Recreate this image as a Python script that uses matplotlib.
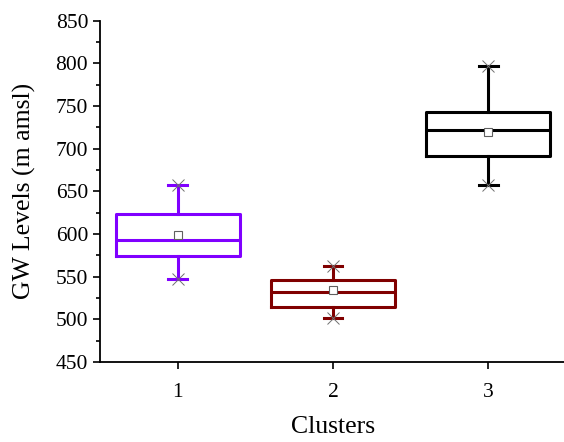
import matplotlib
matplotlib.use("Agg")
import matplotlib.pyplot as plt
from matplotlib.ticker import MultipleLocator

clusters = [1, 2, 3]
whislo = [547, 502, 657]
q1 = [574, 514, 692]
medians = [593, 532, 722]
q3 = [623, 546, 743]
whishi = [658, 562, 797]
means = [599, 534, 719]
colors = ["#8000FF", "#800000", "#000000"]
tick_labels = ["1", "2", "3"]

plt.rcParams['font.family'] = ['Liberation Serif', 'DejaVu Serif']

fig = plt.figure(figsize=(5.64, 4.42), dpi=100)
ax_h = (362 - 20.7) / 442
ax = fig.add_axes([100/564, 1 - 362/442, 466/564, ax_h])

stats = []
for i in range(3):
    stats.append(dict(whislo=whislo[i], q1=q1[i], med=medians[i], q3=q3[i],
                      whishi=whishi[i], mean=means[i], fliers=[]))

for i in range(3):
    c = colors[i]
    ax.bxp([stats[i]], positions=[clusters[i]], widths=0.8, showmeans=False,
           showfliers=False, capwidths=[0.12],
           boxprops=dict(color=c, linewidth=2.2),
           medianprops=dict(color=c, linewidth=2.2),
           whiskerprops=dict(color=c, linewidth=2.2),
           capprops=dict(color=c, linewidth=2.2))
    ax.plot([clusters[i]], [means[i]], marker='s', markersize=5.5, markerfacecolor='white',
            markeredgecolor='#606060', markeredgewidth=0.8, linestyle='none', zorder=5)
    ax.plot([clusters[i], clusters[i]], [whislo[i], whishi[i]], marker='x', markersize=8,
            markeredgecolor='#707070', markeredgewidth=0.7, linestyle='none', zorder=5)

ax.set_xlim(0.5, 3.5)
ax.set_ylim(450, 850)
ax.set_xticks(clusters)
ax.set_xticklabels(tick_labels)
ax.yaxis.set_major_locator(MultipleLocator(50))
ax.yaxis.set_minor_locator(MultipleLocator(25))
ax.tick_params(axis='both', which='major', direction='out', length=5, width=1.2, labelsize=15.5)
ax.tick_params(axis='x', which='major', pad=10)
ax.tick_params(axis='y', which='minor', direction='out', length=3, width=1.2)
ax.spines['top'].set_visible(False)
ax.spines['right'].set_visible(False)
ax.spines['left'].set_linewidth(1.3)
ax.spines['bottom'].set_linewidth(1.3)

ax.set_xlabel("Clusters", fontsize=18.5)
ax.set_ylabel("GW Levels (m amsl)", fontsize=18.5)
ax.xaxis.set_label_coords(0.5, (362 - 416) / 442 / ax_h)
ax.yaxis.set_label_coords((36 - 100) / 466, 0.5)

fig.savefig("out.png", dpi=100)
